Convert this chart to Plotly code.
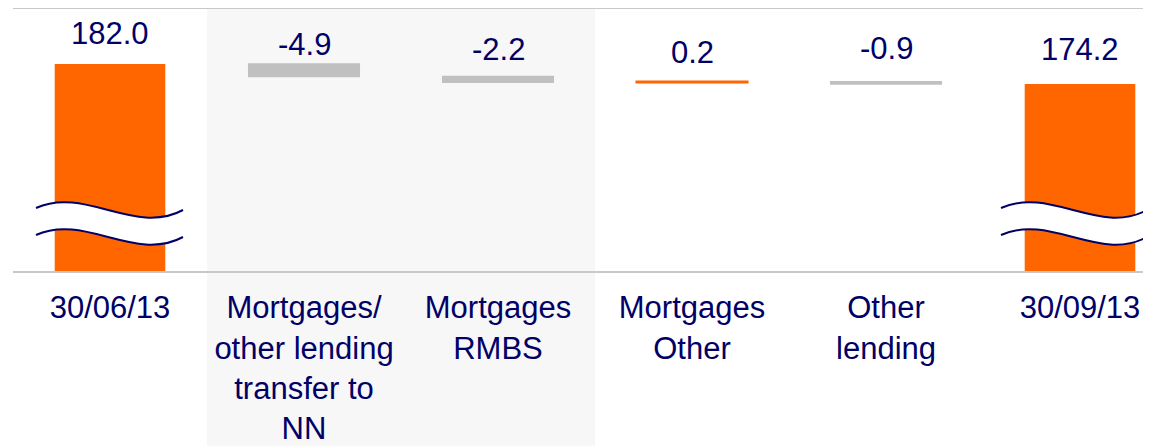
import plotly.graph_objects as go

# ---- data ----
categories = ["30/06/13", "Mortgages/<br>other lending<br>transfer to<br>NN", "Mortgages<br>RMBS",
              "Mortgages<br>Other", "Other<br>lending", "30/09/13"]
measures = ["absolute", "relative", "relative", "relative", "relative", "total"]
values = [182.0, -4.9, -2.2, 0.2, -0.9, None]
value_labels = ["182.0", "-4.9", "-2.2", "0.2", "-0.9", "174.2"]

# ---- style / layout constants ----
PAGE_OFF = 8                      # default body margin of the html page
W, H = 1151 - PAGE_OFF, 446 - PAGE_OFF
M_L, M_R, M_T, M_B = 13 - PAGE_OFF, 0, 1, 175
CAT_PX = 194.0
ORANGE = "#ff6600"
GREY = "#c0c0c0"
NAVY = "#000066"
FONT = "Liberation Sans, Arial, sans-serif"
label_offsets = [31, 20, 27, 29, 33, 35]  # px above bar top

plot_w = W - M_L - M_R
plot_h = H - M_T - M_B
px_per_unit = 20 / 7.8
Y_MAX = 182.0 + (64 - 8 - M_T + 0) / px_per_unit
Y_MIN = Y_MAX - plot_h / px_per_unit
x_max = -0.5 + plot_w / CAT_PX


def px2x(px):
    # px is a screen coordinate
    return -0.5 + (px - PAGE_OFF - M_L) / CAT_PX


def px2y(py):
    return Y_MAX - (py - PAGE_OFF - M_T) / px_per_unit


xs = list(range(len(categories)))

fig = go.Figure()
fig.add_trace(go.Waterfall(
    x=xs, y=values, measure=measures,
    width=0.57,
    increasing=dict(marker=dict(color=ORANGE, line=dict(color=ORANGE, width=2.5))),
    decreasing=dict(marker=dict(color=GREY, line=dict(color=GREY, width=1.5))),
    totals=dict(marker=dict(color=ORANGE, line=dict(color=ORANGE, width=0))),
    connector=dict(visible=False),
    textinfo="none", hoverinfo="skip",
))

# bar tops for labels
tops = []
run = 0.0
for m, v in zip(measures, values):
    if m == "absolute":
        run = v
        tops.append(run)
    elif m == "relative":
        start = run
        run = run + v
        tops.append(max(start, run))
    else:
        tops.append(run)

annotations = []
for i, (t, lab, off) in enumerate(zip(tops, value_labels, label_offsets)):
    annotations.append(dict(x=i, y=t, xref="x", yref="y", text=lab, showarrow=False,
                            yanchor="middle", yshift=off,
                            font=dict(family=FONT, size=31, color=NAVY)))

shapes = [dict(type="rect", xref="x", yref="paper", x0=0.5, x1=2.5, y0=-0.7, y1=1,
               fillcolor="#f7f7f7", line=dict(width=0), layer="below")]

# axis-break waves (screen pixel offsets relative to bar centre)
wave_bars = [0, 5]
wave_x_offsets = [[-74, -25, 25, 73], [-79, -30, 20, 67]]
wave_upper_y = [208, 186, 236, 210]
wave_gap = 27
for b, offs in zip(wave_bars, wave_x_offsets):
    cx = PAGE_OFF + M_L + (b + 0.5) * CAT_PX
    pts_x = [px2x(cx + o) for o in offs]
    up = [px2y(y) for y in wave_upper_y]
    lo = [px2y(y + wave_gap) for y in wave_upper_y]

    def curve(ys):
        return (f"M{pts_x[0]},{ys[0]} C{pts_x[1]},{ys[1]} {pts_x[2]},{ys[2]} {pts_x[3]},{ys[3]}")
    band = (f"M{pts_x[0]},{up[0]} C{pts_x[1]},{up[1]} {pts_x[2]},{up[2]} {pts_x[3]},{up[3]} "
            f"L{pts_x[3]},{lo[3]} C{pts_x[2]},{lo[2]} {pts_x[1]},{lo[1]} {pts_x[0]},{lo[0]} Z")
    shapes.append(dict(type="path", xref="x", yref="y", path=band,
                       fillcolor="white", line=dict(width=0)))
    shapes.append(dict(type="path", xref="x", yref="y", path=curve(up),
                       line=dict(color=NAVY, width=2)))
    shapes.append(dict(type="path", xref="x", yref="y", path=curve(lo),
                       line=dict(color=NAVY, width=2)))

fig.update_layout(
    width=W, height=H,
    margin=dict(l=M_L, r=M_R, t=M_T, b=M_B, autoexpand=False),
    paper_bgcolor="white", plot_bgcolor="rgba(0,0,0,0)",
    showlegend=False,
    xaxis=dict(range=[-0.5, x_max], tickmode="array", tickvals=xs, ticktext=categories,
               showline=True, mirror=True, linecolor="#c8c8c8", linewidth=2,
               showgrid=False, zeroline=False, ticks="", ticklabelstandoff=8,
               tickfont=dict(family=FONT, size=31, color=NAVY), fixedrange=True),
    yaxis=dict(range=[Y_MIN, Y_MAX], visible=False, fixedrange=True),
    annotations=annotations,
    shapes=shapes,
)

fig.write_html("out.html")
